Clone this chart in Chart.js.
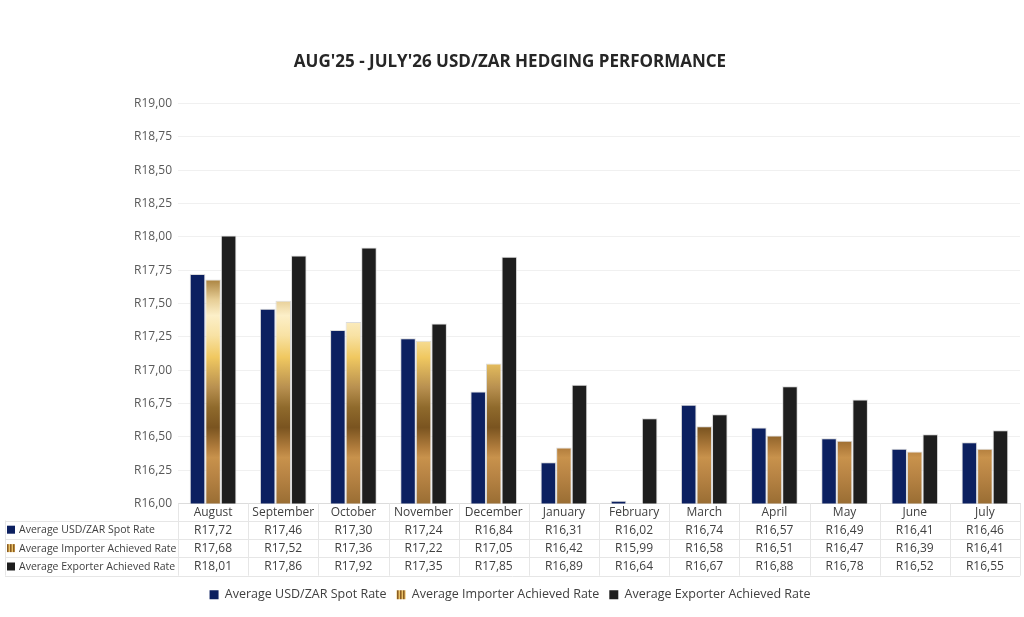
<!DOCTYPE html>
<html>
<head>
<meta charset="utf-8">
<script src="https://cdn.jsdelivr.net/npm/chart.js@4.4.1/dist/chart.umd.min.js"></script>
<style>
  html, body { margin: 0; padding: 0; background: #fff; }
  #wrap { width: 1024px; height: 617px; }
</style>
</head>
<body>
<div id="wrap"><canvas id="chart" width="1024" height="617"></canvas></div>
<script>
const months = ['August', 'September', 'October', 'November', 'December', 'January',
  'February', 'March', 'April', 'May', 'June', 'July'];
const spotRate = [17.72, 17.46, 17.30, 17.24, 16.84, 16.31, 16.02, 16.74, 16.57, 16.49, 16.41, 16.46];
const importerRate = [17.68, 17.52, 17.36, 17.22, 17.05, 16.42, 15.99, 16.58, 16.51, 16.47, 16.39, 16.41];
const exporterRate = [18.01, 17.86, 17.92, 17.35, 17.85, 16.89, 16.64, 16.67, 16.88, 16.78, 16.52, 16.55];
const seriesNames = ['Average USD/ZAR Spot Rate', 'Average Importer Achieved Rate', 'Average Exporter Achieved Rate'];

const FONT = 'Open Sans';
const NAVY = '#0c2060';
const BLACK = '#1e1e1e';

const fmtRand = v => 'R' + v.toFixed(2).replace('.', ',');

// gold gradient over the plot area
let goldCache = null;
function goldFill(c) {
  const chart = c.chart;
  const area = chart.chartArea;
  if (!area) return '#b8883e';
  if (goldCache && goldCache.top === area.top && goldCache.bottom === area.bottom) return goldCache.g;
  const g = chart.ctx.createLinearGradient(0, area.top, 0, area.bottom);
  g.addColorStop(0, '#8f6a2e');
  g.addColorStop(0.40, '#9c763a');
  g.addColorStop(0.445, '#b08a48');
  g.addColorStop(0.49, '#e6cd95');
  g.addColorStop(0.53, '#fcefc8');
  g.addColorStop(0.58, '#f8e2a4');
  g.addColorStop(0.635, '#f0c860');
  g.addColorStop(0.71, '#b89050');
  g.addColorStop(0.76, '#8f6a2c');
  g.addColorStop(0.81, '#7a5420');
  g.addColorStop(0.86, '#b07c3c');
  g.addColorStop(0.885, '#c8924c');
  g.addColorStop(0.93, '#b88444');
  g.addColorStop(1, '#9a6e34');
  goldCache = { top: area.top, bottom: area.bottom, g };
  return g;
}

// small striped swatch for legend / table key
function goldStripes(ctx) {
  const c = document.createElement('canvas');
  c.width = 3; c.height = 3;
  const p = c.getContext('2d');
  p.fillStyle = '#e9c46a'; p.fillRect(0, 0, 1, 3);
  p.fillStyle = '#8a5e22'; p.fillRect(1, 0, 1, 3);
  p.fillStyle = '#b7873f'; p.fillRect(2, 0, 1, 3);
  return ctx.createPattern(c, 'repeat');
}

const tablePlugin = {
  id: 'dataTable',
  afterDraw(chart) {
    const { ctx, chartArea } = chart;
    const x = chart.scales.x;
    const left = chartArea.left, right = chartArea.right;
    const colW = (right - left) / months.length;
    const headTop = chartArea.bottom;
    const rowTop = headTop + 17;
    const rowH = 18.4;
    const bottom = rowTop + rowH * 3;
    const keyLeft = 5;

    ctx.save();
    ctx.strokeStyle = '#e6e6e6';
    ctx.lineWidth = 1;
    ctx.beginPath();
    for (let i = 0; i <= months.length; i++) {
      const xx = Math.round(left + i * colW) + 0.5;
      ctx.moveTo(xx, headTop);
      ctx.lineTo(xx, bottom);
    }
    ctx.moveTo(keyLeft + 0.5, rowTop);
    ctx.lineTo(keyLeft + 0.5, bottom);
    for (let r = 0; r <= 3; r++) {
      const yy = Math.round(rowTop + r * rowH) + 0.5;
      ctx.moveTo(keyLeft, yy);
      ctx.lineTo(right, yy);
    }
    ctx.stroke();

    const keys = [NAVY, goldStripes(ctx), BLACK];
    chart.data.datasets.forEach((ds, r) => {
      const cy = rowTop + r * rowH + rowH / 2;
      ctx.fillStyle = keys[r];
      ctx.fillRect(7, cy - 4, 8, 8);
      ctx.fillStyle = '#404040';
      ctx.font = '10.5px "' + FONT + '"';
      ctx.textAlign = 'left';
      ctx.textBaseline = 'middle';
      ctx.fillText(ds.label, 19, cy + 0.5);
      ctx.font = '12px "' + FONT + '"';
      ctx.textAlign = 'center';
      ds.data.forEach((v, i) => {
        ctx.fillText(fmtRand(v), x.getPixelForValue(i), cy + 0.5);
      });
    });
    ctx.restore();
  }
};

const chart = new Chart(document.getElementById('chart'), {
  type: 'bar',
  data: {
    labels: months,
    datasets: [
      { label: seriesNames[0], data: spotRate, backgroundColor: NAVY },
      { label: seriesNames[1], data: importerRate, backgroundColor: goldFill },
      { label: seriesNames[2], data: exporterRate, backgroundColor: BLACK }
    ]
  },
  options: {
    responsive: false,
    animation: false,
    layout: { padding: { top: 0, left: 0, right: 4, bottom: 6 } },
    datasets: {
      bar: {
        categoryPercentage: 0.665,
        barPercentage: 1,
        borderWidth: 1,
        borderColor: 'rgba(215,215,215,0.9)',
        borderSkipped: 'bottom'
      }
    },
    plugins: {
      title: {
        display: true,
        text: "AUG'25 - JULY'26 USD/ZAR HEDGING PERFORMANCE",
        color: '#262626',
        font: { family: FONT, size: 17, weight: 'bold' },
        padding: { top: 52, bottom: 31 }
      },
      legend: {
        position: 'bottom',
        labels: {
          boxWidth: 9,
          boxHeight: 9,
          padding: 10,
          color: '#404040',
          font: { family: FONT, size: 12.5 },
          generateLabels(ch) {
            const items = Chart.defaults.plugins.legend.labels.generateLabels(ch);
            items.forEach((it, i) => {
              it.fillStyle = i === 1 ? goldStripes(ch.ctx) : (i === 0 ? NAVY : BLACK);
              it.strokeStyle = 'transparent';
              it.lineWidth = 0;
            });
            return items;
          }
        }
      },
      tooltip: { enabled: false }
    },
    scales: {
      x: {
        grid: { display: false, drawTicks: false },
        border: { display: true, color: '#dcdcdc' },
        ticks: { color: '#404040', font: { family: FONT, size: 12 }, padding: 2 },
        afterFit(s) { s.height = 75; }
      },
      y: {
        min: 16,
        max: 19,
        border: { display: false },
        grid: { color: '#f0f0f0', drawTicks: false },
        ticks: {
          stepSize: 0.25,
          padding: 6,
          color: '#595959',
          font: { family: FONT, size: 12 },
          callback: v => fmtRand(v)
        },
        afterFit(s) { s.width = 178; }
      }
    }
  },
  plugins: [tablePlugin]
});
</script>
</body>
</html>
